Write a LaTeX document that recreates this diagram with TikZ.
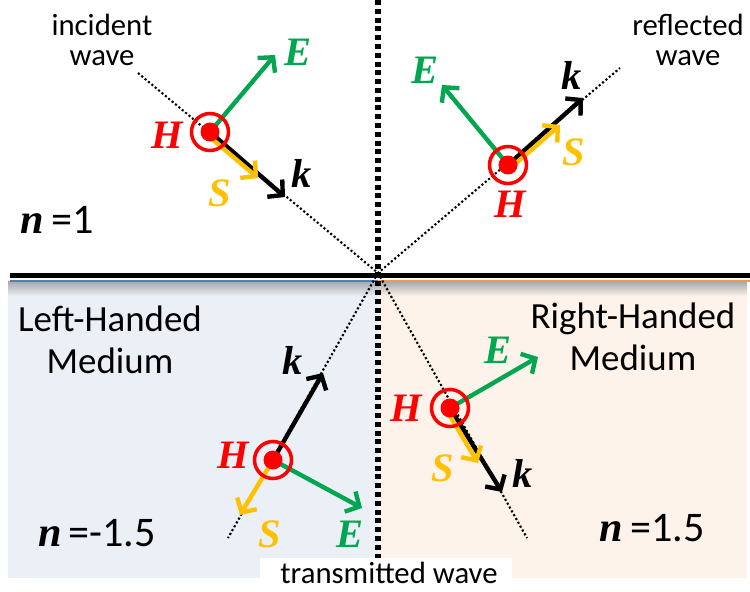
\documentclass[tikz,border=0pt]{standalone}
\usepackage{fontspec}
\setmainfont{Carlito}
\newfontfamily\vecfont{Liberation Serif}
\usepackage{xcolor}
\usepackage{tikz}
\usetikzlibrary{arrows.meta}
\definecolor{eGreen}{HTML}{00A650}
\definecolor{hRed}{HTML}{FF0000}
\definecolor{sGold}{HTML}{FFC000}
\definecolor{lhBlue}{HTML}{4F81BD}
\definecolor{rhOrange}{HTML}{F79646}
\definecolor{lhFill}{HTML}{EBF0F7}
\definecolor{rhFill}{HTML}{FDF3EA}

\begin{document}
\begin{tikzpicture}[
  field/.style={line width=2.5pt, -{Straight Barb[length=6pt,width=13pt]}},
  ray/.style={line width=1.2pt, dash pattern=on 1.2pt off 1.3pt},
  hring/.style={circle, draw=hRed, line width=2pt, minimum size=0.74cm, inner sep=0pt,
    path picture={\fill[hRed] (path picture bounding box.center) circle (0.19);}},
  vlbl/.style={font=\vecfont\bfseries\itshape\fontsize{23}{26}\selectfont, inner sep=0pt},
  wavetxt/.style={font=\fontsize{17.5}{17}\selectfont, align=center, inner sep=0pt},
  medium/.style={font=\fontsize{21}{24}\selectfont, align=center, inner sep=0pt},
  index/.style={font=\fontsize{24}{26}\selectfont, inner sep=0pt}]
  \useasboundingbox (0,0) rectangle (15,11.82);
  % the two media and the interface
  \fill[lhFill] (0.16,0.26) rectangle (7.56,6.22);
  \fill[rhFill] (7.56,0.26) rectangle (14.94,6.22);
  \shade[top color=black!35, bottom color=lhFill] (0.16,5.9) rectangle (7.56,6.2);
  \shade[top color=black!35, bottom color=rhFill] (7.56,5.9) rectangle (14.94,6.2);
  \draw[line width=1.7pt, lhBlue] (0.2,6.2) -- (7.56,6.2);
  \draw[line width=1.7pt, rhOrange] (7.56,6.2) -- (15,6.2);
  \draw[line width=2.85pt] (0.2,6.31) -- (15,6.31);

  \coordinate (O) at (7.56,6.36);
  \coordinate (top) at (7.56,11.82);
  \coordinate (bot) at (7.56,0.66);
  \draw[line width=2.85pt, dash pattern=on 2.85pt off 2.15pt] (top) -- (bot);

  % rays
  \coordinate (in0) at (2.76,10.36);
  \coordinate (rf1) at (12.4,10.46);
  \coordinate (tl1) at (4.56,1.06);
  \coordinate (tr1) at (10.54,1.06);
  \draw[ray] (in0) -- (O) -- (rf1);
  \draw[ray] (O) -- (tl1);
  \draw[ray] (O) -- (tr1);

  % incident wave
  \coordinate (hi) at (4.2,9.18);
  \coordinate (Ei) at (5.5,10.72);
  \coordinate (ki) at (5.7,7.88);
  \coordinate (si0) at (4.15,9.12);
  \coordinate (Si) at (5.16,8.26);
  \draw[field, eGreen] (hi) -- (Ei);
  \draw[field] (hi) -- (ki);
  \draw[field, sGold] (si0) -- (Si);
  \node[hring] (Hi) at (hi) {};
  \node[vlbl, text=eGreen] (Ei-lbl) at (5.96,10.78) {E};
  \node[vlbl] (ki-lbl) at (6.04,8.36) {k};
  \node[vlbl, text=sGold] (Si-lbl) at (4.4,7.96) {S};
  \node[vlbl, text=hRed] (Hi-lbl) at (3.34,9.12) {H};

  % reflected wave
  \coordinate (hr) at (10.16,8.52);
  \coordinate (Er) at (8.84,10.12);
  \coordinate (kr) at (11.66,9.86);
  \coordinate (sr0) at (10.21,8.46);
  \coordinate (Sr) at (11.2,9.32);
  \draw[field, eGreen] (hr) -- (Er);
  \draw[field] (hr) -- (kr);
  \draw[field, sGold] (sr0) -- (Sr);
  \node[hring] (Hr) at (hr) {};
  \node[vlbl, text=eGreen] (Er-lbl) at (8.5,10.42) {E};
  \node[vlbl] (kr-lbl) at (11.44,10.32) {k};
  \node[vlbl, text=sGold] (Sr-lbl) at (11.48,8.78) {S};
  \node[vlbl, text=hRed] (Hr-lbl) at (10.2,7.74) {H};

  % transmitted, left-handed
  \coordinate (hl) at (5.46,2.62);
  \coordinate (El) at (7.24,1.66);
  \coordinate (kl) at (6.46,4.36);
  \coordinate (Sl) at (4.8,1.52);
  \draw[field, eGreen] (hl) -- (El);
  \draw[field] (hl) -- (kl);
  \draw[field, sGold] (hl) -- (Sl);
  \node[hring] (Hl) at (hl) {};
  \node[vlbl, text=eGreen] (El-lbl) at (7.0,1.14) {E};
  \node[vlbl] (kl-lbl) at (5.86,4.62) {k};
  \node[vlbl, text=sGold] (Sl-lbl) at (5.4,1.14) {S};
  \node[vlbl, text=hRed] (Hl-lbl) at (4.66,2.72) {H};

  % transmitted, right-handed
  \coordinate (hm) at (9.0,3.66);
  \coordinate (Em) at (10.76,4.68);
  \coordinate (km) at (10.04,1.98);
  \coordinate (sm0) at (8.93,3.62);
  \coordinate (Sm) at (9.56,2.56);
  \draw[field, eGreen] (hm) -- (Em);
  \draw[field] (hm) -- (km);
  \draw[field, sGold] (sm0) -- (Sm);
  \node[hring] (Hm) at (hm) {};
  \node[vlbl, text=eGreen] (Em-lbl) at (9.96,4.82) {E};
  \node[vlbl] (km-lbl) at (10.46,2.36) {k};
  \node[vlbl, text=sGold] (Sm-lbl) at (8.86,2.46) {S};
  \node[vlbl, text=hRed] (Hm-lbl) at (8.12,3.66) {H};

  % texts
  \node[wavetxt] (inc) at (2.04,11.02) {incident\\wave};
  \node[wavetxt] (refl) at (13.76,11.02) {reflected\\wave};
  \node[medium] (lhm) at (2.2,5.02) {Left-Handed\\Medium};
  \node[medium] (rhm) at (12.66,5.08) {Right-Handed\\Medium};
  \node[index] (n1) at (1.14,7.42) {{\vecfont\bfseries\itshape n}\,=1};
  \node[index] (nl) at (1.94,1.16) {{\vecfont\bfseries\itshape n}\,=-1.5};
  \node[index] (nr) at (13.04,1.26) {{\vecfont\bfseries\itshape n}\,=1.5};
  \fill[white] (5.2,0) rectangle (10.24,0.66);
  \node[wavetxt] (trans) at (7.78,0.36) {transmitted wave};
\end{tikzpicture}
\end{document}
